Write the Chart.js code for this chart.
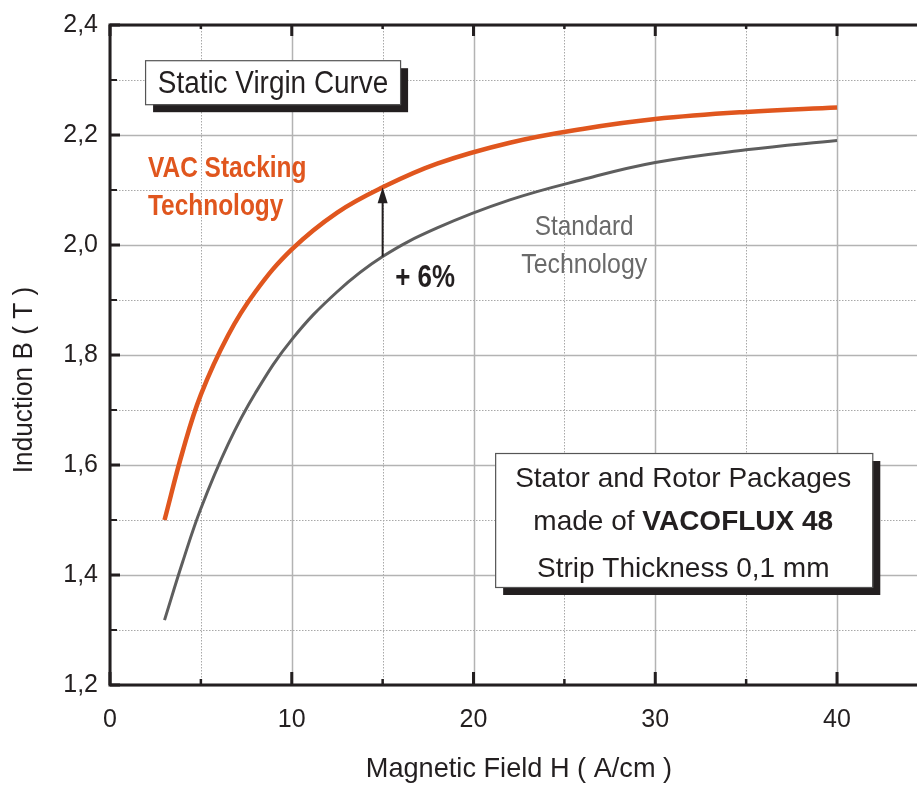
<!DOCTYPE html>
<html>
<head>
<meta charset="utf-8">
<script src="https://cdn.jsdelivr.net/npm/chart.js@4.4.0/dist/chart.umd.min.js"></script>
<style>
    html, body { margin: 0; padding: 0; background: #fff; }
    #wrap { width: 917px; height: 785px; }
</style>
</head>
<body>
<div id="wrap"><canvas id="bhChart" width="917" height="785"></canvas></div>
<script>
    // tick positions
    var xTicks = [0, 5, 10, 15, 20, 25, 30, 35, 40];
    var yTicks = [1.2, 1.3, 1.4, 1.5, 1.6, 1.7, 1.8, 1.9, 2.0, 2.1, 2.2, 2.3, 2.4];

    // magnetic field H (A/cm), same for both curves
    var fieldH = [3, 4, 5, 6.5, 8, 10, 12.5, 15, 18, 22, 26, 30, 35, 40];
    // induction B (T), VAC stacking technology
    var vacB = [1.5, 1.625, 1.728, 1.836, 1.915, 1.992, 2.059, 2.105, 2.148, 2.186, 2.211, 2.229, 2.242, 2.25];
    // induction B (T), standard technology
    var stdB = [1.318, 1.424, 1.521, 1.638, 1.731, 1.828, 1.915, 1.979, 2.031, 2.082, 2.119, 2.15, 2.173, 2.19];

    var arrowH = 15;

    var FONT = "'Liberation Sans', Arial, sans-serif";
    var INK = '#231f20';
    var ORANGE = '#e0561e';
    var GREY = '#5e5e5e';

    Chart.defaults.font.family = FONT;
    Chart.defaults.color = INK;

    function toPoints(xs, ys) {
        var pts = [];
        for (var i = 0; i < xs.length; i++) {
            pts.push({x: xs[i], y: ys[i]});
        }
        return pts;
    }

    function isMajorY(v) { return Math.round(v * 10) % 2 === 0; }

    // text squeezed horizontally, the original uses a condensed face
    function narrowText(ctx, text, x, y, font, align, sx) {
        ctx.save();
        ctx.font = font;
        ctx.textAlign = align;
        ctx.textBaseline = 'alphabetic';
        ctx.translate(x, y);
        ctx.scale(sx, 1);
        ctx.fillText(text, 0, 0);
        ctx.restore();
    }

    // grid lines under the curves, frame and ticks over them
    var gridPlugin = {
        id: 'gridPlugin',
        beforeDatasetsDraw: function (chart) {
            var ctx = chart.ctx, a = chart.chartArea;
            var xs = chart.scales.x, ys = chart.scales.y;
            ctx.save();
            xTicks.forEach(function (v) {
                var p = Math.round(xs.getPixelForValue(v)) + 0.5;
                var major = v % 10 === 0;
                ctx.beginPath();
                ctx.strokeStyle = major ? '#b3b3b3' : '#a8a8a8';
                ctx.lineWidth = major ? 1.5 : 1;
                ctx.setLineDash(major ? [] : [1.5, 1.5]);
                ctx.moveTo(p, a.top);
                ctx.lineTo(p, a.bottom);
                ctx.stroke();
            });
            yTicks.forEach(function (v) {
                var p = Math.round(ys.getPixelForValue(v)) + 0.5;
                var major = isMajorY(v);
                ctx.beginPath();
                ctx.strokeStyle = major ? '#b3b3b3' : '#a8a8a8';
                ctx.lineWidth = major ? 1.5 : 1;
                ctx.setLineDash(major ? [] : [1.5, 1.5]);
                ctx.moveTo(a.left, p);
                ctx.lineTo(a.right, p);
                ctx.stroke();
            });
            ctx.restore();
        },
        afterDatasetsDraw: function (chart) {
            var ctx = chart.ctx, a = chart.chartArea;
            var xs = chart.scales.x, ys = chart.scales.y;
            ctx.save();
            ctx.strokeStyle = INK;
            ctx.setLineDash([]);
            xTicks.forEach(function (v) {
                var p = xs.getPixelForValue(v);
                var major = v % 10 === 0;
                ctx.lineWidth = major ? 3 : 2.5;
                ctx.beginPath();
                ctx.moveTo(p, a.bottom);
                ctx.lineTo(p, a.bottom - (major ? 13 : 6));
                ctx.moveTo(p, a.top);
                ctx.lineTo(p, a.top + (major ? 11 : 4));
                ctx.stroke();
            });
            yTicks.forEach(function (v) {
                var p = ys.getPixelForValue(v);
                var major = isMajorY(v);
                ctx.lineWidth = major ? 3 : 2;
                ctx.beginPath();
                ctx.moveTo(a.left, p);
                ctx.lineTo(a.left + (major ? 10 : 7), p);
                ctx.stroke();
            });
            ctx.lineWidth = 3;
            ctx.beginPath();
            ctx.moveTo(a.right, a.top);
            ctx.lineTo(a.left, a.top);
            ctx.lineTo(a.left, a.bottom);
            ctx.lineTo(a.right, a.bottom);
            ctx.stroke();
            ctx.restore();
        }
    };

    function boxWithShadow(ctx, x1, y1, x2, y2) {
        ctx.fillStyle = INK;
        ctx.fillRect(x1 + 8, y1 + 8, x2 - x1, y2 - y1);
        ctx.fillStyle = '#fff';
        ctx.fillRect(x1, y1, x2 - x1, y2 - y1);
        ctx.strokeStyle = '#555';
        ctx.lineWidth = 1.2;
        ctx.strokeRect(x1 + 0.5, y1 + 0.5, x2 - x1, y2 - y1);
    }

    // axis titles, labels, boxes and the +6% arrow
    var notesPlugin = {
        id: 'notesPlugin',
        afterDraw: function (chart) {
            var ctx = chart.ctx;
            var xs = chart.scales.x, ys = chart.scales.y;
            function px(v) { return xs.getPixelForValue(v); }
            function py(v) { return ys.getPixelForValue(v); }
            ctx.save();

            // axis titles
            ctx.fillStyle = INK;
            narrowText(ctx, 'Magnetic Field H ( A/cm )', px(22.5), 777, '28px ' + FONT, 'center', 0.97);
            ctx.save();
            ctx.translate(32, py(1.7545));
            ctx.rotate(-Math.PI / 2);
            narrowText(ctx, 'Induction B ( T )', 0, 0, '27px ' + FONT, 'center', 0.97);
            ctx.restore();

            // title box
            boxWithShadow(ctx, px(1.93), py(2.336), px(15.96), py(2.256));
            ctx.fillStyle = INK;
            narrowText(ctx, 'Static Virgin Curve', px(8.97), py(2.276), '31px ' + FONT, 'center', 0.9);

            // series labels
            ctx.fillStyle = ORANGE;
            narrowText(ctx, 'VAC Stacking', px(2.09), py(2.1236), 'bold 30px ' + FONT, 'left', 0.815);
            narrowText(ctx, 'Technology', px(2.09), py(2.0545), 'bold 30px ' + FONT, 'left', 0.815);

            ctx.fillStyle = '#6a6a6a';
            narrowText(ctx, 'Standard', px(26.09), py(2.018), '28px ' + FONT, 'center', 0.87);
            narrowText(ctx, 'Technology', px(26.09), py(1.949), '28px ' + FONT, 'center', 0.89);

            // arrow between the curves
            var i = fieldH.indexOf(arrowH);
            var ax = px(arrowH), yTop = py(vacB[i]), yBot = py(stdB[i]);
            ctx.strokeStyle = INK;
            ctx.fillStyle = INK;
            ctx.lineWidth = 2;
            ctx.beginPath();
            ctx.moveTo(ax, yBot);
            ctx.lineTo(ax, yTop + 12);
            ctx.stroke();
            ctx.beginPath();
            ctx.moveTo(ax, yTop);
            ctx.lineTo(ax - 5, yTop + 16);
            ctx.lineTo(ax + 5, yTop + 16);
            ctx.closePath();
            ctx.fill();

            narrowText(ctx, '+ 6%', px(15.69), py(1.9236), 'bold 32px ' + FONT, 'left', 0.81);

            // material box
            boxWithShadow(ctx, px(21.19), py(1.6218), px(41.94), py(1.3782));
            ctx.fillStyle = INK;
            var cx = px(31.54);
            ctx.textBaseline = 'alphabetic';
            ctx.font = '28px ' + FONT;
            ctx.textAlign = 'center';
            ctx.fillText('Stator and Rotor Packages', cx, py(1.56));
            ctx.fillText('Strip Thickness 0,1 mm', cx, py(1.3964));
            var a = 'made of ', b = 'VACOFLUX 48';
            ctx.font = '28px ' + FONT;
            var wa = ctx.measureText(a).width;
            ctx.font = 'bold 28px ' + FONT;
            var wb = ctx.measureText(b).width;
            var sx = cx - (wa + wb) / 2;
            ctx.textAlign = 'left';
            ctx.font = '28px ' + FONT;
            ctx.fillText(a, sx, py(1.4818));
            ctx.font = 'bold 28px ' + FONT;
            ctx.fillText(b, sx + wa, py(1.4818));

            ctx.restore();
        }
    };

    var bhCanvas = document.getElementById('bhChart').getContext('2d');
    var bhChart = new Chart(bhCanvas, {
        type: 'scatter',
        data: {
            datasets: [{
                label: 'VAC Stacking Technology',
                data: toPoints(fieldH, vacB),
                showLine: true,
                borderColor: ORANGE,
                borderWidth: 4.5,
                pointRadius: 0,
                tension: 0.4,
                borderCapStyle: 'butt'
            }, {
                label: 'Standard Technology',
                data: toPoints(fieldH, stdB),
                showLine: true,
                borderColor: GREY,
                borderWidth: 3,
                pointRadius: 0,
                tension: 0.4,
                borderCapStyle: 'butt'
            }]
        },
        options: {
            responsive: false,
            animation: false,
            devicePixelRatio: 1,
            layout: { padding: { top: 25, right: 0, left: 0, bottom: 0 } },
            plugins: {
                legend: { display: false },
                tooltip: { enabled: false }
            },
            scales: {
                x: {
                    type: 'linear',
                    min: 0,
                    max: 44.4,
                    afterBuildTicks: function (s) {
                        s.ticks = xTicks.map(function (v) { return {value: v}; });
                    },
                    afterFit: function (s) { s.height = 100; },
                    grid: { display: false },
                    border: { display: false },
                    ticks: {
                        autoSkip: false,
                        maxRotation: 0,
                        padding: 12,
                        font: { size: 25 },
                        color: INK,
                        callback: function (v) { return v % 10 === 0 ? String(v) : ''; }
                    }
                },
                y: {
                    type: 'linear',
                    min: 1.2,
                    max: 2.4,
                    afterBuildTicks: function (s) {
                        s.ticks = yTicks.map(function (v) { return {value: v}; });
                    },
                    afterFit: function (s) { s.width = 110; },
                    grid: { display: false },
                    border: { display: false },
                    ticks: {
                        autoSkip: false,
                        padding: 4,
                        font: { size: 25 },
                        color: INK,
                        callback: function (v) {
                            return isMajorY(v) ? v.toFixed(1).replace('.', ',') : '';
                        }
                    }
                }
            }
        },
        plugins: [gridPlugin, notesPlugin]
    });
</script>
</body>
</html>
